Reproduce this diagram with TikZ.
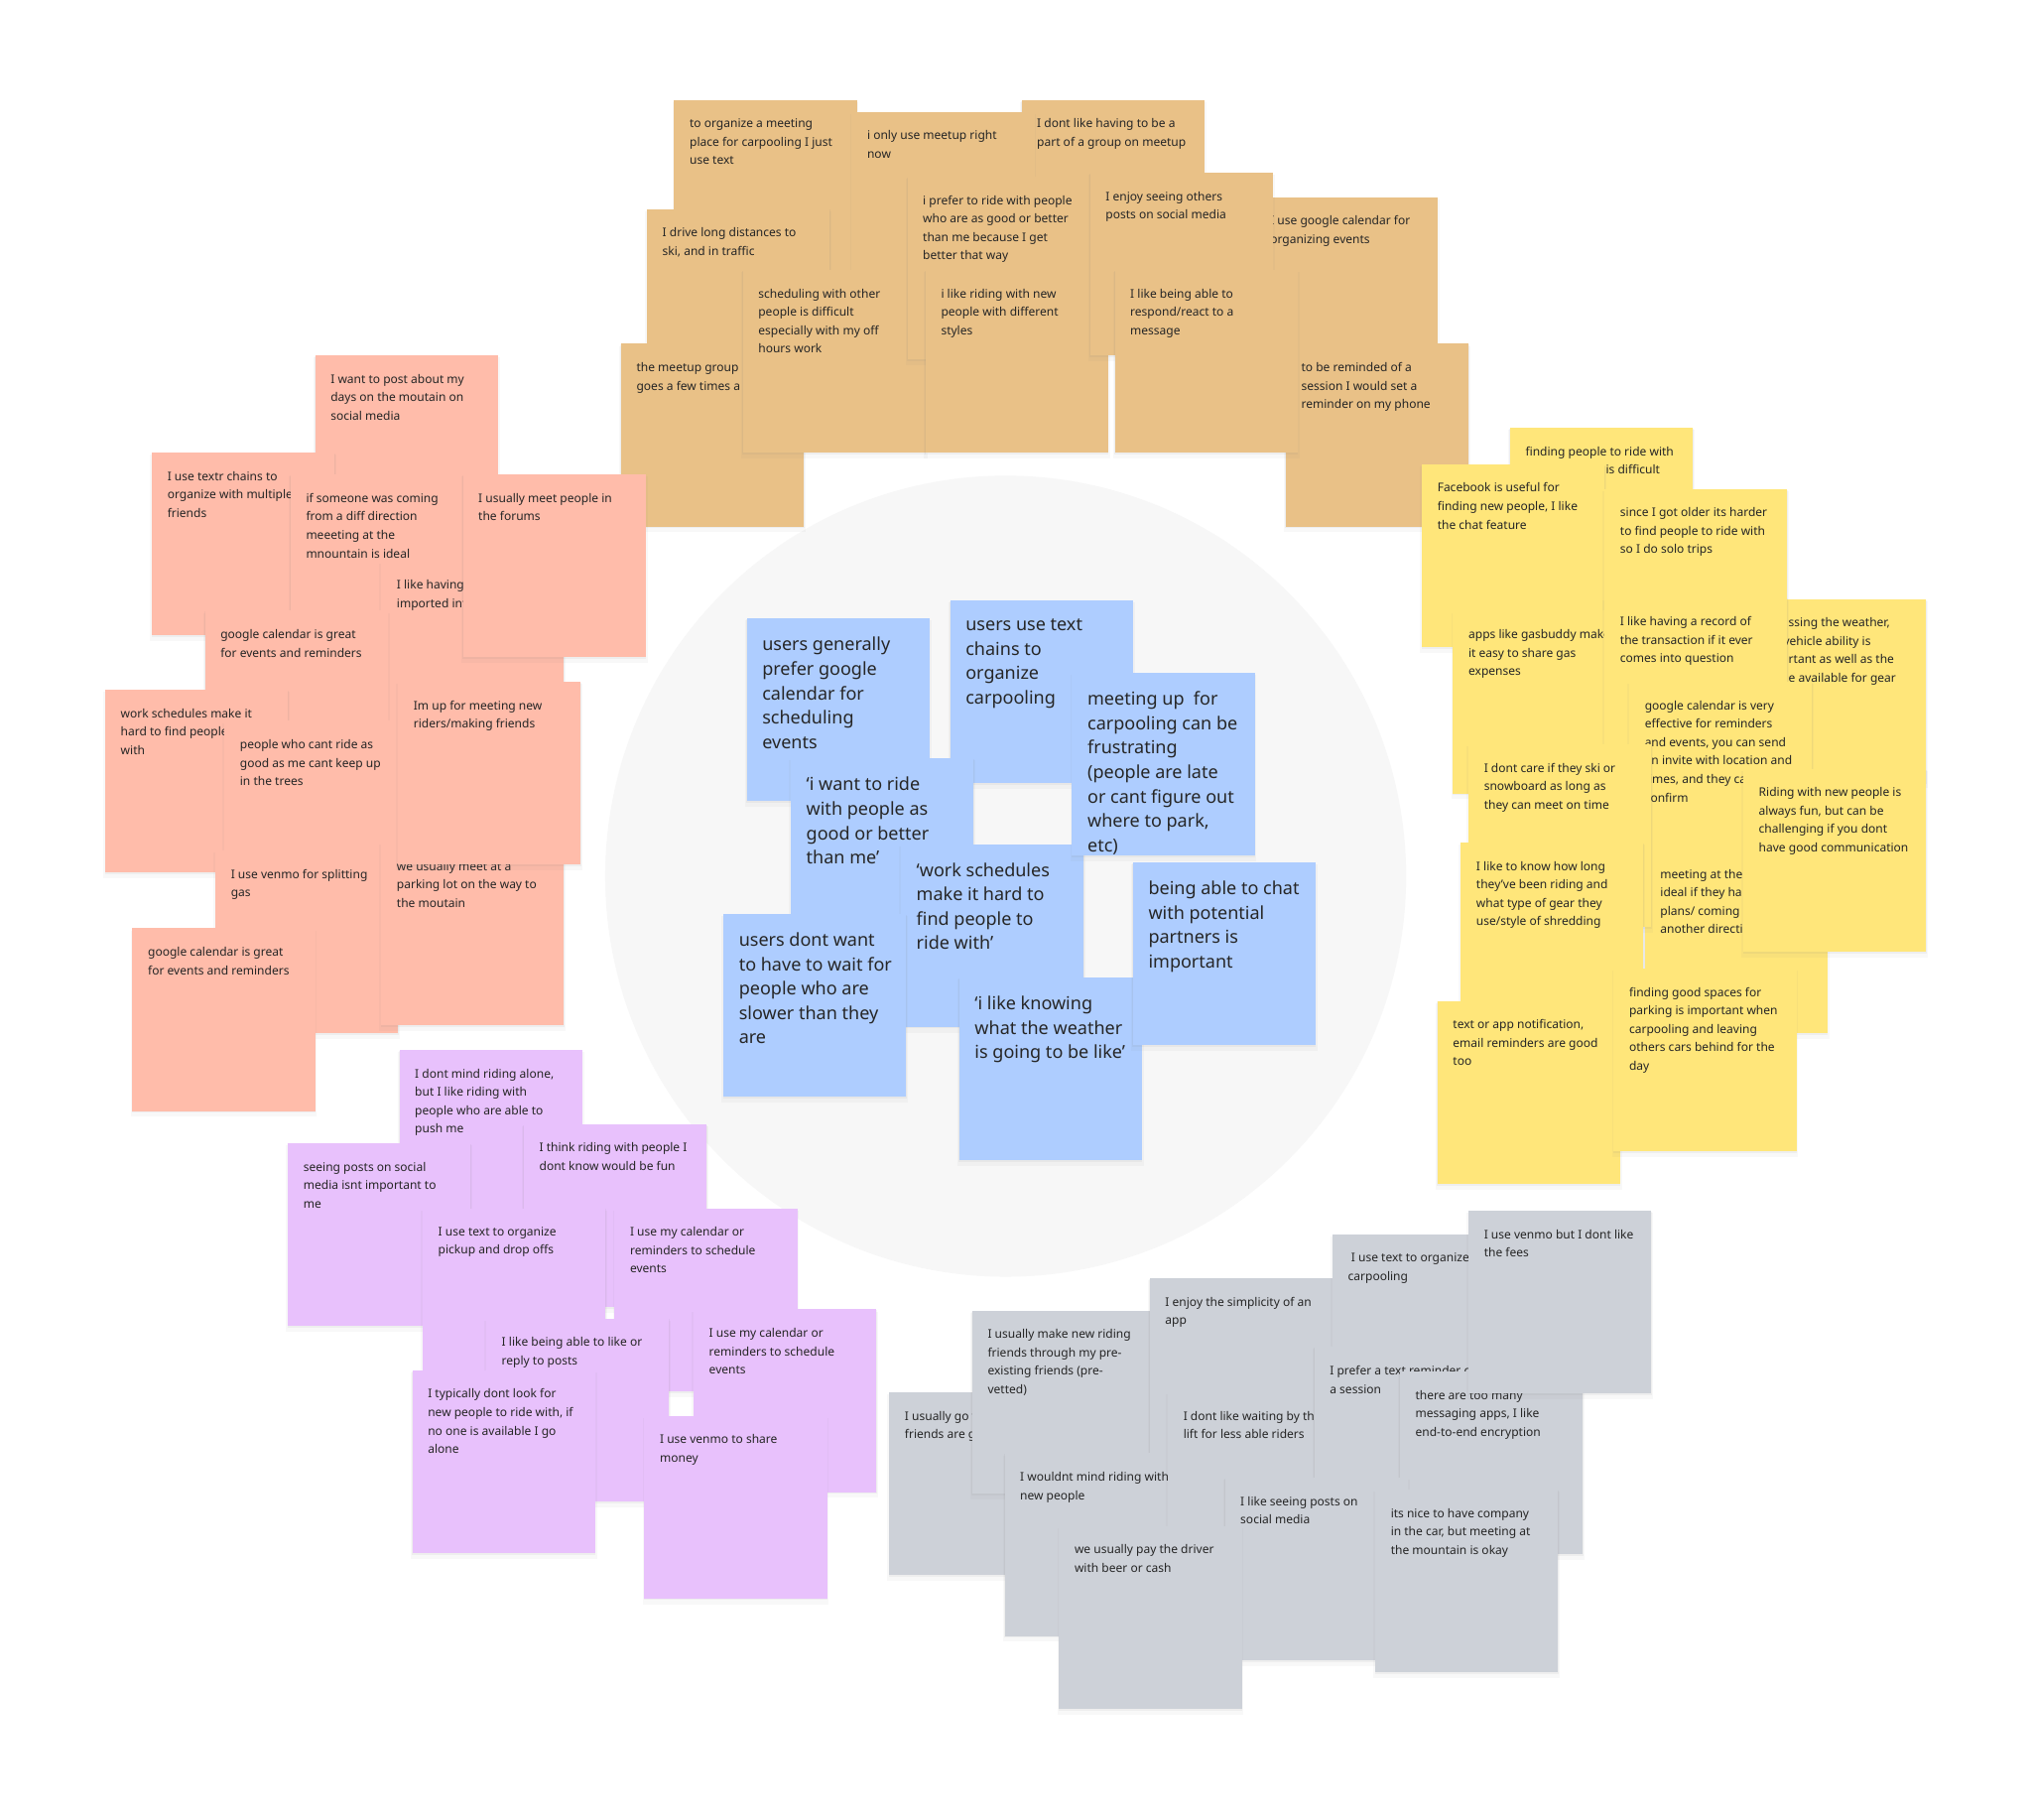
\documentclass[tikz,border=0pt]{standalone}
\usepackage{fontspec}
\setmainfont{Noto Sans}
\usetikzlibrary{shadows}

\definecolor{bgcircle}{HTML}{F7F7F7}
\definecolor{orangenote}{HTML}{E9C187}
\definecolor{salmonnote}{HTML}{FFBCAA}
\definecolor{yellownote}{HTML}{FFE67A}
\definecolor{purplenote}{HTML}{E8C1FC}
\definecolor{greynote}{HTML}{CDD1D8}
\definecolor{bluenote}{HTML}{AECDFF}
\definecolor{inkgrey}{HTML}{262626}

% one sticky note: [text style]{name}{colour}{top left}{text}
\newcommand{\sticky}[5][notetext]{%
  \node[note, fill=#3] (#2) at (#4) {};
  \node[#1] (#2-text) at ([shift={(12pt,-14.5pt)}]#2.north west) {#5};
}

\begin{document}
\begin{tikzpicture}[x=1pt, y=-1pt,
    note/.style={rectangle, anchor=north west, minimum width=141pt, minimum height=141pt, inner sep=0pt,
      drop shadow={opacity=0.05, shadow xshift=0pt, shadow yshift=-3pt, shadow scale=1.02},
      drop shadow={opacity=0.08, shadow xshift=0pt, shadow yshift=-1pt, shadow scale=1.005}},
    notetext/.style={anchor=north west, align=left, inner sep=0pt, text=inkgrey,
      font=\fontsize{9.2}{14.2}\selectfont},
    bigtext/.style={notetext, font=\fontsize{13.8}{18.8}\selectfont}]

    % Canvas
    \fill[white] (0,0) rectangle (1568,1404);
    \useasboundingbox (0,0) rectangle (1568,1404);
    \fill[bgcircle] (776,676) circle (309pt);

    % Orange cluster
    \sticky{o1}{orangenote}{520,77}{to organize a meeting\\place for carpooling I just\\use text}
    \sticky{o3}{orangenote}{788,77}{I dont like having to be a\\part of a group on meetup}
    \sticky{o2}{orangenote}{657,86}{i only use meetup right\\now}
    \sticky{o4}{orangenote}{499,161}{I drive long distances to\\ski, and in traffic}
    \sticky{o5}{orangenote}{479,265}{the meetup group\\goes a few times a}
    \sticky{o6}{orangenote}{573,208}{scheduling with other\\people is difficult\\especially with my off\\hours work}
    \sticky{o7}{orangenote}{700,136}{i prefer to ride with people\\who are as good or better\\than me because I get\\better that way}
    \sticky{o8}{orangenote}{714,208}{i like riding with new\\people with different\\styles}
    \sticky{o11}{orangenote}{968,152}{I use google calendar for\\organizing events}
    \sticky{o9}{orangenote}{841,133}{I enjoy seeing others\\posts on social media}
    \sticky{o12}{orangenote}{992,265}{to be reminded of a\\session I would set a\\reminder on my phone}
    \sticky{o10}{orangenote}{860,208}{I like being able to\\respond/react to a\\message}

    % Salmon cluster
    \sticky{r1}{salmonnote}{243,274}{I want to post about my\\days on the moutain on\\social media}
    \sticky{r2}{salmonnote}{117,349}{I use textr chains to\\organize with multiple\\friends}
    \sticky{r3}{salmonnote}{224,366}{if someone was coming\\from a diff direction\\meeeting at the\\mnountain is ideal}
    \sticky{r5}{salmonnote}{294,433}{I like having\\imported int}
    \sticky{r4}{salmonnote}{357,366}{I usually meet people in\\the forums}
    \sticky{r6}{salmonnote}{158,471}{google calendar is great\\for events and reminders}
    \sticky{r7}{salmonnote}{81,532}{work schedules make it\\hard to find people\\with}
    \sticky{r8}{salmonnote}{173,556}{people who cant ride as\\good as me cant keep up\\in the trees}
    \sticky{r10}{salmonnote}{166,656}{I use venmo for splitting\\gas}
    \sticky{r11}{salmonnote}{294,650}{we usually meet at a\\parking lot on the way to\\the moutain}
    \sticky{r9}{salmonnote}{307,526}{Im up for meeting new\\riders/making friends}
    \sticky{r12}{salmonnote}{102,716}{google calendar is great\\for events and reminders}

    % Yellow cluster
    \sticky{y1}{yellownote}{1165,330}{finding people to ride with\\\hspace*{62pt}is difficult}
    \sticky{y2}{yellownote}{1097,358}{Facebook is useful for\\finding new people, I like\\the chat feature}
    \sticky{y3}{yellownote}{1238,377}{since I got older its harder\\to find people to ride with\\so I do solo trips}
    \sticky{y4}{yellownote}{1121,471}{apps like gasbuddy make\\it easy to share gas\\expenses}
    \sticky{y6}{yellownote}{1345,462}{\hspace*{23pt}ssing the weather,\\\hspace*{19pt}vehicle ability is\\\hspace*{23pt}rtant as well as the\\\hspace*{23pt}e available for gear}
    \sticky{y5}{yellownote}{1238,461}{I like having a record of\\the transaction if it ever\\comes into question}
    \sticky{y7}{yellownote}{1257,526}{google calendar is very\\effective for reminders\\and events, you can send\\an invite with location and\\times, and they can\\confirm}
    \sticky{y11}{yellownote}{1269,656}{meeting at the\\ideal if they ha\\plans/ coming\\another directi}
    \sticky{y8}{yellownote}{1133,574}{I dont care if they ski or\\snowboard as long as\\they can meet on time}
    \sticky{y9}{yellownote}{1345,593}{Riding with new people is\\always fun, but can be\\challenging if you dont\\have good communication}
    \sticky{y10}{yellownote}{1127,650}{I like to know how long\\they’ve been riding and\\what type of gear they\\use/style of shredding}
    \sticky{y12}{yellownote}{1109,772}{text or app notification,\\email reminders are good\\too}
    \sticky{y13}{yellownote}{1245,747}{finding good spaces for\\parking is important when\\carpooling and leaving\\others cars behind for the\\day}

    % Purple cluster
    \sticky{p1}{purplenote}{308,810}{I dont mind riding alone,\\but I like riding with\\people who are able to\\push me}
    \sticky{p2}{purplenote}{222,882}{seeing posts on social\\media isnt important to\\me}
    \sticky{p3}{purplenote}{404,867}{I think riding with people I\\dont know would be fun}
    \sticky{p4}{purplenote}{326,932}{I use text to organize\\pickup and drop offs}
    \sticky{p5}{purplenote}{474,932}{I use my calendar or\\reminders to schedule\\events}
    \sticky{p6}{purplenote}{375,1017}{I like being able to like or\\reply to posts}
    \sticky{p7}{purplenote}{535,1010}{I use my calendar or\\reminders to schedule\\events}
    \sticky{p8}{purplenote}{318,1057}{I typically dont look for\\new people to ride with, if\\no one is available I go\\alone}
    \sticky{p9}{purplenote}{497,1092}{I use venmo to share\\money}

    % Grey cluster
    \sticky{g1}{greynote}{686,1074}{I usually go w\\friends are g}
    \sticky{g2}{greynote}{750,1011}{I usually make new riding\\friends through my pre-\\existing friends (pre-\\vetted)}
    \sticky{g3}{greynote}{887,986}{I enjoy the simplicity of an\\app}
    \sticky{g4}{greynote}{1028,952}{\hspace*{2.5pt}I use text to organize\\carpooling}
    \sticky{g9}{greynote}{775,1121}{I wouldnt mind riding with\\new people}
    \sticky{g7}{greynote}{901,1074}{I dont like waiting by the\\lift for less able riders}
    \sticky{g6}{greynote}{1014,1039}{I prefer a text reminder of\\a session}
    \sticky{g8}{greynote}{1080,1058}{there are too many\\messaging apps, I like\\end-to-end encryption}
    \sticky{g5}{greynote}{1133,934}{I use venmo but I dont like\\the fees}
    \sticky{g10}{greynote}{945,1140}{I like seeing posts on\\social media}
    \sticky{g11}{greynote}{1061,1149}{its nice to have company\\in the car, but meeting at\\the mountain is okay}
    \sticky{g12}{greynote}{817,1177}{we usually pay the driver\\with beer or cash}

    % Blue insights
    \sticky[bigtext]{b1}{bluenote}{576,477}{users generally\\prefer google\\calendar for\\scheduling\\events}
    \sticky[bigtext]{b2}{bluenote}{733,463}{users use text\\chains to\\organize\\carpooling}
    \sticky[bigtext]{b4}{bluenote}{610,585}{‘i want to ride\\with people as\\good or better\\than me’}
    \sticky[bigtext]{b5}{bluenote}{695,651}{‘work schedules\\make it hard to\\find people to\\ride with’}
    \sticky[bigtext]{b3}{bluenote}{827,519}{meeting up\ \ for\\carpooling can be\\frustrating\\(people are late\\or cant figure out\\where to park,\\etc)}
    \sticky[bigtext]{b6}{bluenote}{558,705}{users dont want\\to have to wait for\\people who are\\slower than they\\are}
    \sticky[bigtext]{b8}{bluenote}{740,754}{‘i like knowing\\what the weather\\is going to be like’}
    \sticky[bigtext]{b7}{bluenote}{874,665}{being able to chat\\with potential\\partners is\\important}
\end{tikzpicture}
\end{document}
